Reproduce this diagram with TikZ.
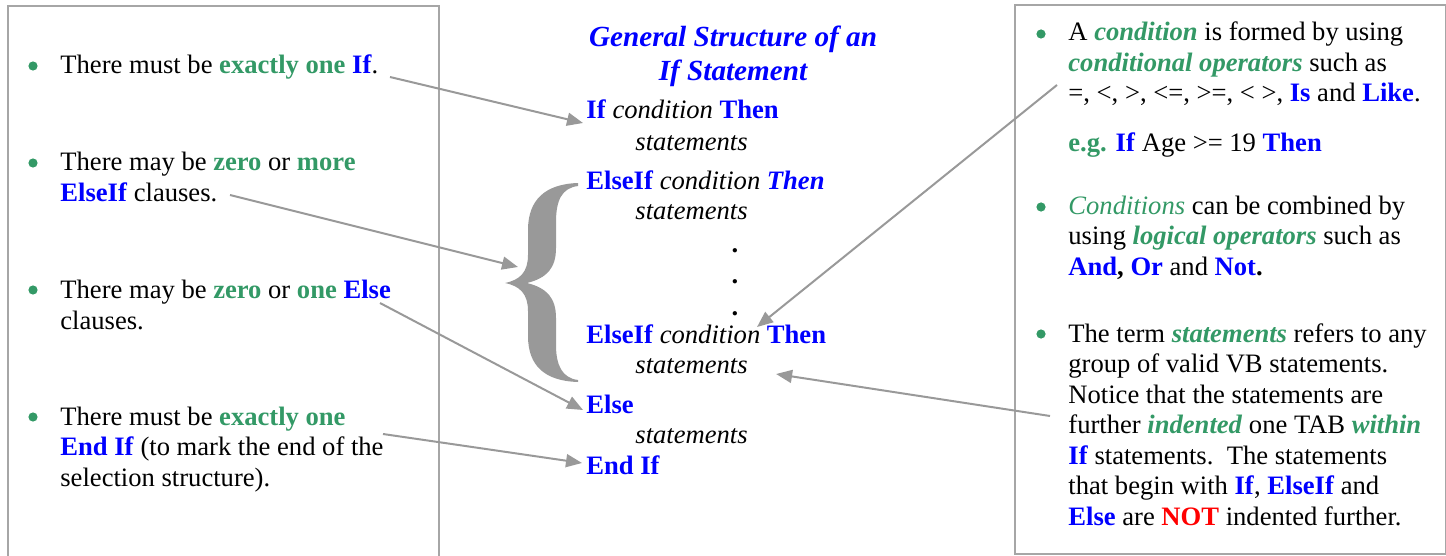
\documentclass[tikz,border=0pt]{standalone}
\usepackage{fontspec}
\setmainfont{Liberation Serif}
\usepackage{xcolor}
\definecolor{kwblue}{HTML}{0000FF}
\definecolor{hlgreen}{HTML}{339966}
\definecolor{notred}{HTML}{FF0000}
\definecolor{linkgray}{HTML}{999999}
\definecolor{framegray}{HTML}{A6A6A6}
\usepackage{tikz}
\usetikzlibrary{arrows.meta,positioning}
\newcommand{\kw}[1]{\textcolor{kwblue}{\textbf{#1}}}
\newcommand{\kwi}[1]{\textcolor{kwblue}{\textbf{\textit{#1}}}}
\newcommand{\gb}[1]{\textcolor{hlgreen}{\textbf{#1}}}
\newcommand{\gbi}[1]{\textcolor{hlgreen}{\textbf{\textit{#1}}}}
\newcommand{\gi}[1]{\textcolor{hlgreen}{\textit{#1}}}

\begin{document}
\begin{tikzpicture}[
  x=0.5pt, y=-0.5pt,
  font=\fontsize{13.3}{15.25}\selectfont,
  >={Triangle[length=8pt,width=6.5pt]},
  panel/.style={draw=framegray, line width=1pt, anchor=north west, inner sep=0},
  txt/.style={anchor=base west, align=left, inner sep=0},
  code/.style={anchor=base west, inner sep=0},
  dot/.style={circle, fill=hlgreen, inner sep=0, minimum size=4.6pt},
  link/.style={draw=linkgray, line width=1pt, ->},
]
\useasboundingbox (0,0) rectangle (1446,556);
\clip (0,0) rectangle (1446,556);

% Panels
\node[panel, minimum width=215.5pt, minimum height=290pt] (leftpanel) at (7,5) {};
\node[panel, minimum width=215.5pt, minimum height=274.5pt] (rightpanel) at (1014,4) {};

% Left notes (placed at the baseline of their last line)
\foreach \y [count=\i] in {66,163,290,417}
  \node[dot] (ldot\i) at (33,\y) {};
\node[txt] (must) at (60,74) {There must be \gb{exactly one} \kw{If}.};
\node[txt] (mayelif) at (60,201) {There may be \gb{zero} or \gb{more}\\\kw{ElseIf} clauses.};
\node[txt] (mayelse) at (60,329) {There may be \gb{zero} or \gb{one} \kw{Else}\\clauses.};
\node[txt] (mustend) at (60,486) {There must be \gb{exactly one}\\\kw{End If} (to mark the end of the\\selection structure).};

% General structure
\node[anchor=base, align=center, inner sep=0, text=kwblue,
  font=\fontsize{14.6}{17}\selectfont\bfseries\itshape] (title) at (733,81)
  {General Structure of an\\If Statement};
\node[code] (ifl) at (586,119) {\kw{If} \textit{condition} \kw{Then}};
\node[code] (st1) at (635,150) {\textit{statements}};
\node[code] (elif1) at (586,190) {\kw{ElseIf} \textit{condition} \kwi{Then}};
\node[code] (st2) at (635,220) {\textit{statements}};
\foreach \y [count=\i] in {252,283,315}
  \node[anchor=base, inner sep=0] (vdot\i) at (735,\y) {\textbf{.}};
\node[code] (elif2) at (586,343) {\kw{ElseIf} \textit{condition} \kw{Then}};
\node[code] (st3) at (635,373) {\textit{statements}};
\node[code] (elsel) at (586,413) {\kw{Else}};
\node[code] (st4) at (635,443) {\textit{statements}};
\node[code] (endif) at (586,474) {\kw{End If}};

% Brace
\fill[linkgray] (578,183) .. controls (545,184) and (528,200) .. (528,230)
  -- (528,255) .. controls (528,272) and (520,280) .. (505,283)
  .. controls (520,286) and (528,294) .. (528,311)
  -- (528,336) .. controls (528,366) and (545,381) .. (578,382)
  -- (578,380) .. controls (562,378) and (556,365) .. (556,345)
  -- (556,318) .. controls (556,298) and (547,288) .. (527,283)
  .. controls (547,278) and (556,268) .. (556,248)
  -- (556,222) .. controls (556,200) and (562,188) .. (578,186) -- cycle;
\coordinate (bracetip) at (505,283);

% Right notes (placed at the baseline of their last line)
\foreach \y [count=\i] in {34,207,334}
  \node[dot] (rdot\i) at (1041,\y) {};
\node[txt] (cond) at (1068,102) {A \gbi{condition} is formed by using\\\gbi{conditional operators} such as\\=, <, >, <=, >=, < >, \kw{Is} and \kw{Like}.};
\node[txt] (eg) at (1068,152) {\gb{e.g.} \kw{If} Age >= 19 \kw{Then}};
\node[txt] (logic) at (1068,275) {\gi{Conditions} can be combined by\\using \gbi{logical operators} such as\\\kw{And}\textbf{,} \kw{Or} and \kw{Not}\textbf{.}};
\node[txt] (term) at (1068,525) {The term \gbi{statements} refers to any\\group of valid VB statements.\\Notice that the statements are\\further \gbi{indented} one TAB \gbi{within}\\\kw{If} statements.\ \ The statements\\that begin with \kw{If}, \kw{ElseIf} and\\\kw{Else} are \textcolor{notred}{\textbf{NOT}} indented further.};

% Connectors
\coordinate (fromif) at (390,77);
\coordinate (fromelif) at (230,195);
\coordinate (fromelse) at (380,303);
\coordinate (fromend) at (383,434);
\coordinate (fromcond) at (1057,85);
\coordinate (fromterm) at (1050,416);
\draw[link] (fromif) -- ([shift={(-3,4)}]ifl.base west);
\draw[link] (fromelif) -- ([shift={(13,-16)}]bracetip);
\draw[link] (fromelse) -- ([shift={(-3,-3)}]elsel.base west);
\draw[link] (fromend) -- ([shift={(-4,-11)}]endif.base west);
\draw[link] (fromcond) -- ([shift={(171,-16)}]elif2.base west);
\draw[link] (fromterm) -- ([shift={(28,1)}]st3.base east);
\end{tikzpicture}
\end{document}
